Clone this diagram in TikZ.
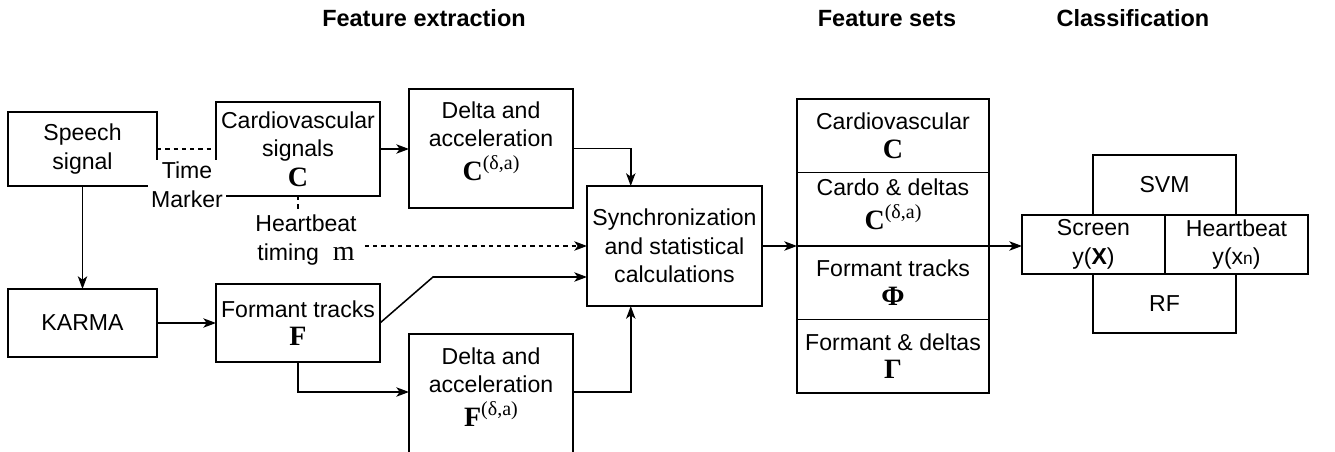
\documentclass[tikz,border=0pt]{standalone}
\usepackage{fontspec}
\setmainfont{Liberation Sans}
\newfontfamily\tnr{Liberation Serif}
\usetikzlibrary{arrows.meta,calc}
\newlength\pxu
\setlength\pxu{0.75pt}
% bold serif symbols and the (delta,a) superscript
\newcommand\mbf[1]{{\fontsize{21pt}{22pt}\selectfont\tnr\bfseries #1}}
\newcommand\dasup{\raisebox{8pt}{\fontsize{15pt}{16pt}\selectfont\tnr(δ,a)}}
\begin{document}
\begin{tikzpicture}[x=0.75pt,y=-0.75pt,
  every node/.style={font=\fontsize{17.3pt}{21.4pt}\selectfont},
  title/.style={font=\fontsize{17.6pt}{21pt}\selectfont\bfseries, anchor=base, inner sep=0pt},
  box/.style={draw, line width=1.15pt, inner sep=0pt, outer sep=0pt, align=center},
  wh/.style 2 args={minimum width=#1\pxu, minimum height=#2\pxu},
  arr/.style={-{Stealth[length=9.5pt,width=7pt,inset=2.5pt]}, line width=1.15pt},
  dsh/.style={dash pattern=on 3.2pt off 3pt, line width=1.15pt},
  lbl/.style={align=center, inner sep=2pt}]
\useasboundingbox (0,0) rectangle (1335,452);
\clip (0,0) rectangle (1335,452);

% column titles
\node[title] (t1) at (424,27) {Feature extraction};
\node[title] (t2) at (887,27) {Feature sets};
\node[title] (t3) at (1133,27) {Classification};

% feature extraction blocks
\node[box, wh={149}{74}] (speech) at (82.5,149) {Speech\\signal};
\node[box, wh={164}{94}] (cv) at (298,149) {Cardiovascular\\signals\\[1pt]\mbf{C}};
\node[box, wh={164}{119}] (dc) at (491,148.5) {};
\node[lbl, inner sep=0pt] (dct) at (491,141) {Delta and\\acceleration\\[4pt]\mbf{C}\dasup};
\node[box, wh={175}{120}] (sync) at (674.5,246) {Synchronization\\and statistical\\calculations};
\node[box, wh={149}{68}] (karma) at (82.5,323) {KARMA};
\node[box, wh={164}{78}] (fm) at (298,323) {Formant tracks\\\mbf{F}};
\node[box, wh={164}{136}] (dfbox) at (491,402) {};
\node[lbl, inner sep=0pt] (dft) at (491,387) {Delta and\\acceleration\\[4pt]\mbf{F}\dasup};

% feature sets column
\node[box, wh={192}{73.5}] (fs1) at (893,135.75) {Cardiovascular\\[1pt]\mbf{C}};
\node[box, wh={192}{73.5}] (fs2) at (893,209.25) {};
\node[lbl, inner sep=0pt] (fs2t) at (893,204) {Cardo \& deltas\\[4pt]\mbf{C}\dasup};
\node[box, wh={192}{73.5}] (fs3) at (893,282.75) {Formant tracks\\\mbf{Φ}};
\node[box, wh={192}{73.5}] (fs4) at (893,356.25) {Formant \& deltas\\\mbf{Γ}};

% classification cross
\node[box, wh={143}{60}] (svm) at (1164.5,185) {SVM};
\node[box, wh={143}{59}] (screen) at (1093.5,244.5) {Screen\\y(\textbf{X})};
\node[box, wh={143}{59}] (hbeat) at (1236.5,244.5) {Heartbeat\\y(x{\fontsize{13pt}{14pt}\selectfont n})};
\node[box, wh={143}{59}] (rf) at (1164.5,303.5) {RF};

% heartbeat timing label
\node[lbl, inner xsep=8\pxu, inner ysep=4\pxu] (hb) at (306,240) {Heartbeat\\timing\hspace{0.6em}{\fontsize{21pt}{21pt}\selectfont\tnr m}};

% connection points
\coordinate (syncin1) at ($(sync.north west)!0.25!(sync.north east)$);
\coordinate (syncin2) at ($(sync.south west)!0.25!(sync.south east)$);
\coordinate (dfl) at (409,392);
\coordinate (dfr) at (573,392);
\coordinate (fk) at (433,277);

% connectors
\draw[dsh] (speech.east) -- (cv.west);
\draw[arr] (speech.south) -- (karma.north);
\draw[arr] (karma.east) -- (fm.west);
\draw[arr] (cv.east) -- (cv.east -| dc.west);
\draw[arr] (dc.east) -| (syncin1);
\draw[arr] (fm.south) |- (dfl);
\draw[arr] (dfr) -| (syncin2);
\draw[arr] (fm.east) -- (fk) -- (fk -| sync.west);
\draw[dsh] (cv.south) -- (cv.south |- hb.north);
\draw[dsh, arr] (hb.east |- sync.west) -- (sync.west);
\draw[arr] (sync.east) -- (sync.east -| fs3.west);
\draw[arr] (fs3.north east) -- (fs3.north east -| screen.west);

% time marker label over the box corner
\node[lbl, fill=white, inner sep=2pt] (tm) at (187,185) {Time\\Marker};
\end{tikzpicture}
\end{document}
